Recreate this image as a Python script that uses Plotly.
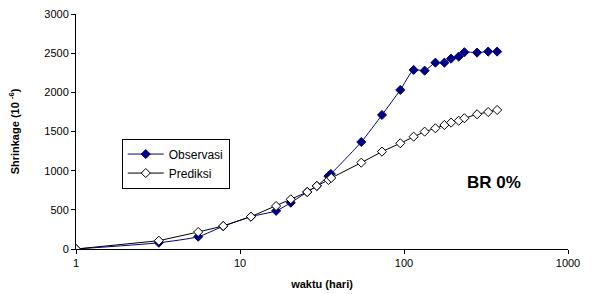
import plotly.graph_objects as go

# Data
obs_days = [1, 3.2, 5.56, 7.9, 11.66, 16.6, 20.4, 25.7, 29.4, 34.6, 35.8, 54.9, 73.4,
            94.9, 114.5, 133.6, 155.4, 176.3, 193.6, 215.6, 233.5, 279, 326, 369.8]
obs_vals = [0, 80, 157, 290, 413, 487, 591, 728, 805, 930, 958, 1366, 1711,
            2030, 2286, 2277, 2379, 2379, 2430, 2456, 2512, 2507, 2520, 2520]

pred_days = [1, 3.2, 5.56, 7.9, 11.66, 16.6, 20.4, 25.7, 29.4, 34.6, 36.0, 54.9, 73.4,
             94.9, 114.5, 133.6, 155.4, 176.3, 193.6, 215.6, 233.5, 279, 326, 369.8]
pred_vals = [0, 106, 217, 294, 413, 549, 635, 728, 805, 881, 907, 1102, 1243,
             1350, 1434, 1498, 1541, 1583, 1613, 1638, 1669, 1720, 1749, 1775]

x_ticks = [1, 10, 100, 1000]
x_tick_text = ["1", "10", "100", "1000"]
y_ticks = [0, 500, 1000, 1500, 2000, 2500, 3000]

FONT = "Liberation Sans, Arial, sans-serif"

fig = go.Figure()
fig.add_trace(go.Scatter(
    x=obs_days, y=obs_vals, name="Observasi", mode="lines+markers",
    line=dict(color="#000080", width=1, shape="spline", smoothing=0.6),
    marker=dict(symbol="diamond", size=7, color="#000080",
                line=dict(color="#000080", width=1)),
))
fig.add_trace(go.Scatter(
    x=pred_days, y=pred_vals, name="Prediksi", mode="lines+markers",
    line=dict(color="black", width=1),
    marker=dict(symbol="diamond", size=7, color="white",
                line=dict(color="black", width=1)),
))

fig.add_annotation(
    text="<b>BR 0%</b>", xref="paper", yref="paper", x=0.849, y=0.281,
    xanchor="center", yanchor="middle",
    showarrow=False, font=dict(family=FONT, size=17, color="black"),
)

fig.update_layout(
    width=614, height=294,
    margin=dict(l=76, r=46, t=14, b=45),
    paper_bgcolor="white", plot_bgcolor="white",
    font=dict(family=FONT, size=11, color="black"),
    showlegend=True,
    legend=dict(
        x=0.093, y=0.47, xanchor="left", yanchor="top",
        bgcolor="white", bordercolor="black", borderwidth=1,
        font=dict(family=FONT, size=12, color="black"),
        itemwidth=36, tracegroupgap=2,
    ),
    xaxis=dict(
        type="log", range=[0, 3], tickvals=x_ticks, ticktext=x_tick_text,
        showgrid=False, zeroline=False, showline=True, linecolor="black",
        linewidth=1, ticks="outside", ticklen=4, tickcolor="black",
        tickfont=dict(family=FONT, size=11), automargin=False,
        title=dict(text="<b>waktu (hari)</b>", font=dict(family=FONT, size=11),
                   standoff=12),
    ),
    yaxis=dict(
        range=[0, 3000], tickvals=y_ticks, automargin=False,
        showgrid=False, zeroline=False, showline=True, linecolor="black",
        linewidth=1, ticks="outside", ticklen=4, tickcolor="black",
        tickfont=dict(family=FONT, size=11),
        title=dict(text="<b>Shrinkage (10 <sup>-6</sup>)</b>",
                   font=dict(family=FONT, size=11), standoff=22),
    ),
)

# remove the page's default 8px body margin so the figure sits at the window origin
fig.write_html("out.html", config={"displayModeBar": False},
               post_script="document.body.style.margin='0';")
